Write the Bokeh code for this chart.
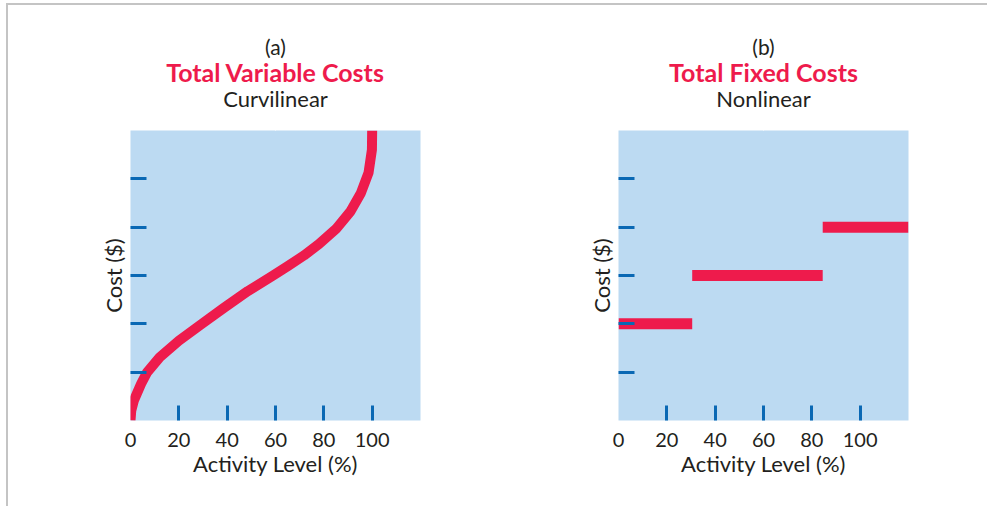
from bokeh.plotting import figure
from bokeh.layouts import row
from bokeh.models import Title, LinearAxis, FixedTicker, Range1d
from bokeh.embed import file_html
from bokeh.resources import INLINE

# ---- data ----
activity_ticks = [20, 40, 60, 80, 100]
activity_labels = [0, 20, 40, 60, 80, 100]
cost_ticks = [20, 40, 60, 80, 100]

# (a) total variable costs, curvilinear (activity %, cost)
var_activity = [0, 0.3, 1.4, 4.4, 6.9, 12.1, 20, 29.3, 38.5, 48.5, 59, 65, 71.8, 78,
                85, 91, 95.3, 98.5, 99.9, 100]
var_cost = [0, 4, 8.3, 15.2, 20, 26.2, 33, 39.8, 46.5, 53.5, 60, 63.8, 68.3, 73,
            79.2, 86.5, 94, 102.5, 112, 120]

# (b) total fixed costs, step (nonlinear)
fixed_start = [0, 30.5, 84.5]
fixed_end = [30.5, 84.5, 120]
fixed_cost = [40, 60, 80]

RED = "#ee1b4c"
BLUE_BG = "#bcdaf2"
TICK = "#0a68b4"
TEXT = "#231f20"
FONT = "Lato"


def hidden_labels(ax):
    ax.major_label_text_font_size = "1px"
    ax.major_label_text_color = None
    ax.major_label_text_alpha = 0


def make_panel(letter, title, subtitle, width, left, right):
    p = figure(width=width, height=501,
               x_range=Range1d(0, 120), y_range=Range1d(0, 120),
               output_backend="svg", toolbar_location=None,
               min_border_left=left, min_border_right=right,
               min_border_top=125, min_border_bottom=86,
               background_fill_color=BLUE_BG, border_fill_color="white",
               outline_line_color=None)
    p.grid.visible = False

    # default bottom axis: inner ticks only
    xa = p.xaxis[0]
    xa.ticker = FixedTicker(ticks=activity_ticks)
    xa.major_tick_in = 15
    xa.major_tick_out = 0
    xa.major_tick_line_color = TICK
    xa.major_tick_line_width = 3
    xa.minor_tick_line_color = None
    xa.axis_line_color = None
    hidden_labels(xa)
    xa.major_label_standoff = 0

    # labelled bottom axis
    lab = LinearAxis(ticker=FixedTicker(ticks=activity_labels),
                     major_tick_line_color=None, minor_tick_line_color=None,
                     axis_line_color=None, major_label_standoff=6,
                     major_label_text_font=FONT, major_label_text_font_size="20px",
                     major_label_text_color=TEXT,
                     axis_label="Activity Level (%)", axis_label_text_font=FONT,
                     axis_label_text_font_size="22px", axis_label_text_font_style="normal",
                     axis_label_text_color=TEXT, axis_label_standoff=0)
    p.add_layout(lab, "below")

    ya = p.yaxis[0]
    ya.ticker = FixedTicker(ticks=cost_ticks)
    ya.major_tick_in = 16
    ya.major_tick_out = 0
    ya.major_tick_line_color = TICK
    ya.major_tick_line_width = 3
    ya.minor_tick_line_color = None
    ya.axis_line_color = None
    hidden_labels(ya)
    ya.major_label_standoff = 0
    ya.axis_label = "Cost ($)"
    ya.axis_label_text_font = FONT
    ya.axis_label_text_font_size = "22px"
    ya.axis_label_text_font_style = "normal"
    ya.axis_label_text_color = TEXT
    ya.axis_label_standoff = 4

    # invisible (white-on-white) spacer between plot area and the titles
    spacer = LinearAxis(ticker=FixedTicker(ticks=[60]), major_tick_line_color="white",
                        major_tick_line_width=1, major_tick_in=0, major_tick_out=19,
                        minor_tick_line_color=None, axis_line_color=None,
                        major_label_standoff=0)
    hidden_labels(spacer)
    p.add_layout(spacer, "above")

    p.add_layout(Title(text=subtitle, align="center", text_font=FONT, text_font_size="22px",
                       text_font_style="normal", text_color=TEXT, standoff=0), "above")
    p.add_layout(Title(text=title, align="center", text_font=FONT, text_font_size="25px",
                       text_font_style="bold", text_color=RED, standoff=-8), "above")
    p.title.text = letter
    p.title.align = "center"
    p.title.text_font = FONT
    p.title.text_font_size = "21px"
    p.title.text_font_style = "normal"
    p.title.text_color = TEXT
    p.title.standoff = 0
    return p


p1 = make_panel("(a)", "Total Variable Costs", "Curvilinear", 492, 122, 80)
p1.line(var_activity, var_cost, line_width=10, line_color=RED, line_cap="butt", line_join="round")

p2 = make_panel("(b)", "Total Fixed Costs", "Nonlinear", 487, 118, 79)
p2.segment(x0=fixed_start, y0=fixed_cost, x1=fixed_end, y1=fixed_cost,
           line_width=11, line_color=RED, line_cap="butt")

layout = row(p1, p2, styles={"margin-top": "3px", "margin-left": "6px",
                             "border-top": "2px solid #c4c4c4",
                             "border-left": "2px solid #c4c4c4"})
open("out.html", "w").write(file_html(layout, INLINE))
